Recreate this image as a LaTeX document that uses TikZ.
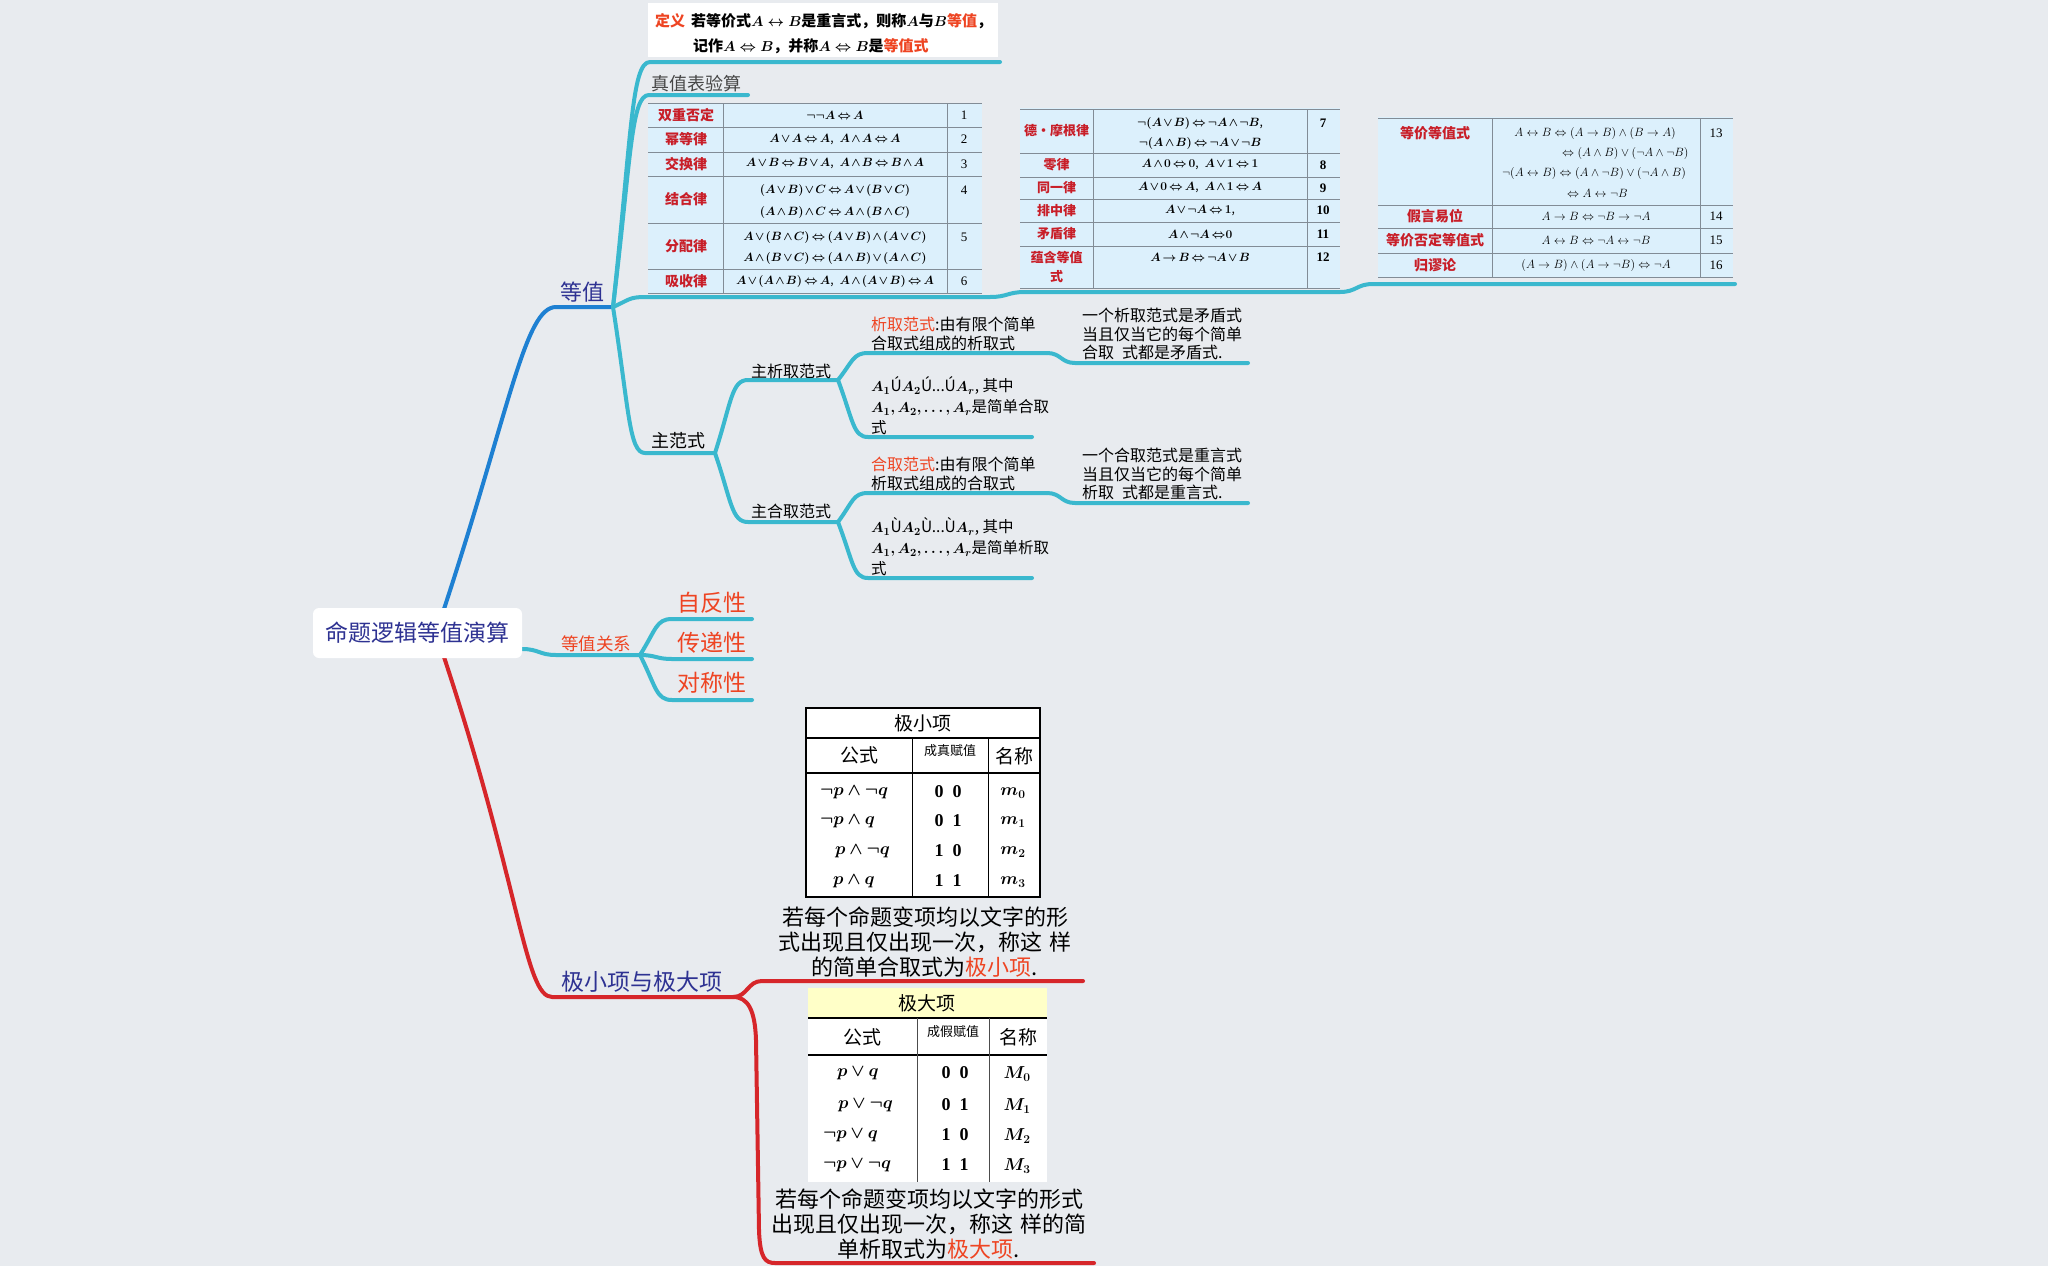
\documentclass[tikz,border=0pt]{standalone}
\usepackage{bm}
\usepackage{fontspec}
\setmainfont{Noto Sans CJK SC}
\newfontfamily\tms{Liberation Serif}
\usetikzlibrary{calc}
\definecolor{bg}{RGB}{232,235,239}
\definecolor{bluebr}{RGB}{30,128,210}
\definecolor{cyanbr}{RGB}{58,184,206}
\definecolor{redbr}{RGB}{214,38,42}
\definecolor{navy}{RGB}{46,50,146}
\definecolor{orred}{RGB}{238,68,34}
\definecolor{lawred}{RGB}{200,30,40}
\definecolor{tblue}{RGB}{220,240,252}
\definecolor{tline}{RGB}{130,140,150}
\definecolor{ylw}{RGB}{255,255,200}
\definecolor{txtgray}{RGB}{70,70,70}
\newcommand\fsz[2]{\fontsize{#1}{#2}\selectfont}
\newcommand\tightmath{\thickmuskip=3mu\medmuskip=2mu}
\newcommand\tbr[4]{\draw[#1] let \p1=(#2), \p2=(#3) in (\p1) .. controls ({\x1+0.5*(\x2-\x1)},{\y1+0.7*(\y2-\y1)}) and ({\x1+0.5*(\x2-\x1)},{\y2}) .. (\p2) -- (#4);}
\newcommand\sbr[4]{\draw[#1] let \p1=(#2), \p2=(#3) in (\p1) .. controls ({\x1+0.5*(\x2-\x1)},{\y1}) and ({\x1+0.5*(\x2-\x1)},{\y2}) .. (\p2) -- (#4);}
\begin{document}
\begin{tikzpicture}[x=1pt,y=-1pt,
  br/.style={line width=4pt, line cap=round, line join=round},
  lbl/.style={anchor=west, inner sep=0pt},
  lawname/.style={inner sep=0pt, text=lawred, font=\bfseries\fsz{14}{16}},
  lawnameb/.style={inner sep=0pt, text=lawred, font=\bfseries\fsz{13}{15}},
  fml/.style={inner sep=0pt, font=\fsz{12}{14}\tightmath},
  fmlc/.style={inner sep=0pt, font=\fsz{12}{14}},
  num/.style={inner sep=0pt, font=\tms\fsz{13}{15}},
  numb/.style={inner sep=0pt, font=\tms\bfseries\fsz{13}{15}},
  tl/.style={draw=tline, line width=1pt},
  mform/.style={inner sep=0pt, font=\fsz{18}{20}},
  mval/.style={inner sep=0pt, font=\tms\bfseries\fsz{18}{20}},
  mhead/.style={inner sep=0pt, font=\fsz{19}{22}},
  msmall/.style={inner sep=0pt, font=\fsz{13}{15}},
  sub/.style={anchor=west, inner sep=0pt, align=left, font=\fsz{16}{18.5}},
  subm/.style={anchor=west, inner sep=0pt, align=left, font=\fsz{15.5}{21}},
  rel/.style={anchor=west, inner sep=0pt, text=orred, font=\fsz{23}{26}}
]
\useasboundingbox (0,0) rectangle (2048,1266);
\fill[bg] (0,0) rectangle (2048,1266);

% ---------- coordinates ----------
\coordinate (rootT) at (444,609);
\coordinate (rootB) at (444,657);
\coordinate (rootR) at (522,649);
\coordinate (dzS) at (556,307);  \coordinate (dzE) at (613,307);
\coordinate (defS) at (650,62);  \coordinate (defE) at (1000,62);
\coordinate (zbS) at (649,95);   \coordinate (zbE) at (748,95);
\coordinate (t1S) at (645,297);  \coordinate (t1E) at (990,297);
\coordinate (t2S) at (1025,292); \coordinate (t2E) at (1340,292);
\coordinate (t3S) at (1373,284); \coordinate (t3E) at (1735,284);
\coordinate (zfS) at (645,453);  \coordinate (zfE) at (715,453);
\coordinate (zxS) at (748,380);  \coordinate (zxE) at (838,380);
\coordinate (zhS) at (748,522);  \coordinate (zhE) at (838,522);
\coordinate (x1S) at (868,353);  \coordinate (x1E) at (1047,353);
\coordinate (x2S) at (1075,363); \coordinate (x2E) at (1248,363);
\coordinate (x3S) at (868,437);  \coordinate (x3E) at (1032,437);
\coordinate (h1S) at (868,493);  \coordinate (h1E) at (1047,493);
\coordinate (h2S) at (1075,503); \coordinate (h2E) at (1248,503);
\coordinate (h3S) at (868,578);  \coordinate (h3E) at (1032,578);
\coordinate (gxS) at (556,655);  \coordinate (gxE) at (640,655);
\coordinate (r1S) at (672,619);  \coordinate (r1E) at (752,619);
\coordinate (r2S) at (672,659);  \coordinate (r2E) at (752,659);
\coordinate (r3S) at (672,700);  \coordinate (r3E) at (752,700);
\coordinate (jxS) at (552,997);  \coordinate (jxE) at (733,997);
\coordinate (m1S) at (762,981);  \coordinate (m1E) at (1083,981);
\coordinate (m2S) at (775,1263); \coordinate (m2E) at (1094,1263);

% ---------- definition box ----------
\node[fill=white, inner sep=0pt, minimum width=350pt, minimum height=54pt, anchor=north west] (defbox) at (648,3) {};
\node[lbl, font=\bfseries\fsz{15}{18}] (def1) at (655,21) {\textcolor{orred}{定义}\hspace{6pt}若等价式$\bm{A\leftrightarrow B}$是重言式，则称$\bm{A}$与$\bm{B}$\textcolor{orred}{等值}，};
\node[lbl, font=\bfseries\fsz{15}{18}] (def2) at (693,46) {记作$\bm{A\Leftrightarrow B}$，并称$\bm{A\Leftrightarrow B}$是\textcolor{orred}{等值式}};

% ---------- table 1 ----------
\fill[tblue] (648,103) rectangle (982,293);
\foreach \yy in {103,127,152,176,223,269,293} \draw[tl] (648,\yy) -- (982,\yy);
\draw[tl] (723,103) -- (723,293);
\draw[tl] (947,103) -- (947,293);
\node[lawname] (a1) at (686,115) {双重否定};
\node[lawname] (a2) at (686,139.5) {幂等律};
\node[lawname] (a3) at (686,164) {交换律};
\node[lawname] (a4) at (686,199.5) {结合律};
\node[lawname] (a5) at (686,246) {分配律};
\node[lawname] (a6) at (686,281) {吸收律};
\node[fml] (b1) at (835,115) {$\bm{\neg\neg A\Leftrightarrow A}$};
\node[fml] (b2) at (835,139.5) {$\bm{A\vee A\Leftrightarrow A}$,\enspace $\bm{A\wedge A\Leftrightarrow A}$};
\node[fml] (b3) at (835,164) {$\bm{A\vee B\Leftrightarrow B\vee A}$,\enspace $\bm{A\wedge B\Leftrightarrow B\wedge A}$};
\node[fml] (b4a) at (835,190) {$\bm{(A\vee B)\vee C\Leftrightarrow A\vee(B\vee C)}$};
\node[fml] (b4b) at (835,212) {$\bm{(A\wedge B)\wedge C\Leftrightarrow A\wedge(B\wedge C)}$};
\node[fml] (b5a) at (835,237) {$\bm{A\vee(B\wedge C)\Leftrightarrow(A\vee B)\wedge(A\vee C)}$};
\node[fml] (b5b) at (835,258) {$\bm{A\wedge(B\vee C)\Leftrightarrow(A\wedge B)\vee(A\wedge C)}$};
\node[fml] (b6) at (835,281) {$\bm{A\vee(A\wedge B)\Leftrightarrow A}$,\enspace $\bm{A\wedge(A\vee B)\Leftrightarrow A}$};
\node[num] (c1) at (964,115) {1};
\node[num] (c2) at (964,139.5) {2};
\node[num] (c3) at (964,164) {3};
\node[num] (c4) at (964,190) {4};
\node[num] (c5) at (964,237) {5};
\node[num] (c6) at (964,281) {6};

% ---------- table 2 ----------
\fill[tblue] (1020,108) rectangle (1340,288);
\foreach \yy in {109,153,177,199,222,246,288} \draw[tl] (1020,\yy) -- (1340,\yy);
\draw[tl] (1093,109) -- (1093,288);
\draw[tl] (1307,109) -- (1307,288);
\node[lawnameb] (d1) at (1056.5,131) {德·摩根律};
\node[lawnameb] (d2) at (1056.5,165) {零律};
\node[lawnameb] (d3) at (1056.5,188) {同一律};
\node[lawnameb] (d4) at (1056.5,210.5) {排中律};
\node[lawnameb] (d5) at (1056.5,234) {矛盾律};
\node[lawnameb] (d6a) at (1056.5,257) {蕴含等值};
\node[lawnameb] (d6b) at (1056.5,277) {式};
\node[fml] (e1a) at (1200,123) {$\bm{\neg(A\vee B)\Leftrightarrow\neg A\wedge\neg B}$,};
\node[fml] (e1b) at (1200,143) {$\bm{\neg(A\wedge B)\Leftrightarrow\neg A\vee\neg B}$};
\node[fml] (e2) at (1200,165) {$\bm{A\wedge 0\Leftrightarrow 0}$,\enspace $\bm{A\vee 1\Leftrightarrow 1}$};
\node[fml] (e3) at (1200,188) {$\bm{A\vee 0\Leftrightarrow A}$,\enspace $\bm{A\wedge 1\Leftrightarrow A}$};
\node[fml] (e4) at (1200,210.5) {$\bm{A\vee\neg A\Leftrightarrow 1}$,};
\node[fml] (e5) at (1200,234) {$\bm{A\wedge\neg A\Leftrightarrow\!0}$};
\node[fml] (e6) at (1200,257) {$\bm{A\rightarrow B\Leftrightarrow\neg A\vee B}$};
\node[numb] (f1) at (1323,123) {7};
\node[numb] (f2) at (1323,165) {8};
\node[numb] (f3) at (1323,188) {9};
\node[numb] (f4) at (1323,210.5) {10};
\node[numb] (f5) at (1323,234) {11};
\node[numb] (f6) at (1323,257) {12};

% ---------- table 3 ----------
\fill[tblue] (1378,117) rectangle (1733,277);
\foreach \yy in {118,205,228,253,277} \draw[tl] (1378,\yy) -- (1733,\yy);
\draw[tl] (1492,118) -- (1492,277);
\draw[tl] (1700,118) -- (1700,277);
\node[lawname] (g1) at (1435,133) {等价等值式};
\node[lawname] (g2) at (1435,216.5) {假言易位};
\node[lawname] (g3) at (1435,240.5) {等价否定等值式};
\node[lawname] (g4) at (1435,265) {归谬论};
\node[fmlc] (h1a) at (1595,133) {$A\leftrightarrow B\Leftrightarrow(A\rightarrow B)\wedge(B\rightarrow A)$};
\node[fmlc, anchor=west] (h1b) at (1562,153) {$\Leftrightarrow(A\wedge B)\vee(\neg A\wedge\neg B)$};
\node[fmlc, anchor=west] (h1c) at (1502,173) {$\neg(A\leftrightarrow B)\Leftrightarrow(A\wedge\neg B)\vee(\neg A\wedge B)$};
\node[fmlc, anchor=west] (h1d) at (1567,193) {$\Leftrightarrow A\leftrightarrow\neg B$};
\node[fmlc] (h2) at (1596,216.5) {$A\rightarrow B\Leftrightarrow\neg B\rightarrow\neg A$};
\node[fmlc] (h3) at (1596,240.5) {$A\leftrightarrow B\Leftrightarrow\neg A\leftrightarrow\neg B$};
\node[fmlc] (h4) at (1596,265) {$(A\rightarrow B)\wedge(A\rightarrow\neg B)\Leftrightarrow\neg A$};
\node[num] (i1) at (1716,133) {13};
\node[num] (i2) at (1716,216.5) {14};
\node[num] (i3) at (1716,240.5) {15};
\node[num] (i4) at (1716,265) {16};

% ---------- minterm table ----------
\fill[white] (806,708) rectangle (1040,897);
\draw[black, line width=1.3pt] (806,708) rectangle (1040,897);
\draw[black, line width=1.3pt] (806,738) -- (1040,738);
\draw[black, line width=1.3pt] (806,773) -- (1040,773);
\draw[black, line width=1pt] (912,738) -- (912,897);
\draw[black, line width=1pt] (988,738) -- (988,897);
\node[mhead] (mth) at (923,723) {极小项};
\node[mhead] (mtca) at (859,755) {公式};
\node[msmall] (mtcb) at (950,751) {成真赋值};
\node[mhead] (mtcc) at (1014,756) {名称};
\node[mform, anchor=west] (mfa) at (820,792) {$\bm{\neg p\wedge\neg q}$};
\node[mform, anchor=west] (mfb) at (820,821) {$\bm{\neg p\wedge q}$};
\node[mform, anchor=west] (mfc) at (835,851) {$\bm{p\wedge\neg q}$};
\node[mform, anchor=west] (mfd) at (833,881) {$\bm{p\wedge q}$};
\node[mval] (mva) at (948,792) {0\hspace{9pt}0};
\node[mval] (mvb) at (948,821) {0\hspace{9pt}1};
\node[mval] (mvc) at (948,851) {1\hspace{9pt}0};
\node[mval] (mvd) at (948,881) {1\hspace{9pt}1};
\node[mform] (mna) at (1013,793) {$\bm{m_0}$};
\node[mform] (mnb) at (1013,822) {$\bm{m_1}$};
\node[mform] (mnc) at (1013,852) {$\bm{m_2}$};
\node[mform] (mnd) at (1013,882) {$\bm{m_3}$};
\node[inner sep=0pt, align=center, font=\fsz{22}{25}] (mtxt) at (925,942) {若每个命题变项均以文字的形\\式出现且仅出现一次，称这\hspace{8pt}样\\的简单合取式为\textcolor{orred}{极小项}.};

% ---------- maxterm table ----------
\fill[ylw] (808,988) rectangle (1047,1018);
\fill[white] (808,1018) rectangle (1047,1182);
\draw[black, line width=1.3pt] (808,1018) -- (1047,1018);
\draw[black, line width=1.3pt] (808,1055) -- (1047,1055);
\draw[black!70, line width=1pt] (917,1018) -- (917,1182);
\draw[black!70, line width=1pt] (989,1018) -- (989,1182);
\node[mhead] (Mth) at (927,1003) {极大项};
\node[mhead] (Mtca) at (862,1037) {公式};
\node[msmall] (Mtcb) at (953,1032) {成假赋值};
\node[mhead] (Mtcc) at (1018,1037) {名称};
\node[mform, anchor=west] (Mfa) at (837,1073) {$\bm{p\vee q}$};
\node[mform, anchor=west] (Mfb) at (838,1105) {$\bm{p\vee\neg q}$};
\node[mform, anchor=west] (Mfc) at (823,1135) {$\bm{\neg p\vee q}$};
\node[mform, anchor=west] (Mfd) at (823,1165) {$\bm{\neg p\vee\neg q}$};
\node[mval] (Mva) at (955,1073) {0\hspace{9pt}0};
\node[mval] (Mvb) at (955,1105) {0\hspace{9pt}1};
\node[mval] (Mvc) at (955,1135) {1\hspace{9pt}0};
\node[mval] (Mvd) at (955,1165) {1\hspace{9pt}1};
\node[mform] (Mna) at (1017,1074) {$\bm{M_0}$};
\node[mform] (Mnb) at (1017,1106) {$\bm{M_1}$};
\node[mform] (Mnc) at (1017,1136) {$\bm{M_2}$};
\node[mform] (Mnd) at (1017,1166) {$\bm{M_3}$};
\node[inner sep=0pt, align=center, font=\fsz{22}{25}] (Mtxt) at (929,1224) {若每个命题变项均以文字的形式\\出现且仅出现一次，称这\hspace{8pt}样的简\\单析取式为\textcolor{orred}{极大项}.};

% ---------- branches ----------
\draw[br, bluebr] (rootT) .. controls (510,408) and (525,307) .. (dzS) -- (dzE);
\draw[br, redbr] (rootB) .. controls (520,887) and (525,997) .. (jxS) -- (jxE);
\tbr{br, cyanbr}{dzE}{defS}{defE}
\tbr{br, cyanbr}{dzE}{zbS}{zbE}
\tbr{br, cyanbr}{dzE}{t1S}{t1E}
\sbr{br, cyanbr}{t1E}{t2S}{t2E}
\sbr{br, cyanbr}{t2E}{t3S}{t3E}
\tbr{br, cyanbr}{dzE}{zfS}{zfE}
\tbr{br, cyanbr}{zfE}{zxS}{zxE}
\tbr{br, cyanbr}{zfE}{zhS}{zhE}
\tbr{br, cyanbr}{zxE}{x1S}{x1E}
\sbr{br, cyanbr}{x1E}{x2S}{x2E}
\tbr{br, cyanbr}{zxE}{x3S}{x3E}
\tbr{br, cyanbr}{zhE}{h1S}{h1E}
\sbr{br, cyanbr}{h1E}{h2S}{h2E}
\tbr{br, cyanbr}{zhE}{h3S}{h3E}
\sbr{br, cyanbr}{rootR}{gxS}{gxE}
\tbr{br, cyanbr}{gxE}{r1S}{r1E}
\sbr{br, cyanbr}{gxE}{r2S}{r2E}
\tbr{br, cyanbr}{gxE}{r3S}{r3E}
\sbr{br, redbr}{jxE}{m1S}{m1E}
\draw[br, redbr] (jxE) .. controls (748,997) and (755,1010) .. (756,1040) -- (759,1230) .. controls (760,1258) and (765,1263) .. (m2S) -- (m2E);

% ---------- root and labels ----------
\node[fill=white, rounded corners=6pt, inner sep=0pt, minimum width=209pt, minimum height=50pt, text=navy, font=\fsz{23}{28}] (root) at (417.5,633) {命题逻辑等值演算};
\node[lbl, text=navy, font=\fsz{22}{26}] (dz) at (560,292) {等值};
\node[lbl, text=txtgray, font=\fsz{18}{21}] (zb) at (651,84) {真值表验算};
\node[lbl, font=\fsz{18}{21}] (zf) at (651,441) {主范式};
\node[lbl, font=\fsz{16}{19}] (zx) at (751,371.5) {主析取范式};
\node[lbl, font=\fsz{16}{19}] (zh) at (751,511.5) {主合取范式};
\node[sub] (xa) at (871,334) {\textcolor{orred}{析取范式}:由有限个简单\\合取式组成的析取式};
\node[sub] (xb) at (1082,334) {一个析取范式是矛盾式\\当且仅当它的每个简单\\合取\hspace{8pt}式都是矛盾式.};
\node[subm] (xc) at (871,406) {$\bm{A_1}$Ú$\bm{A_2}$Ú...Ú$\bm{A_r}$, 其中\\$\bm{A_1,A_2,\ldots,A_r}$是简单合取\\式};
\node[sub] (ha) at (871,474) {\textcolor{orred}{合取范式}:由有限个简单\\析取式组成的合取式};
\node[sub] (hb) at (1082,474) {一个合取范式是重言式\\当且仅当它的每个简单\\析取\hspace{8pt}式都是重言式.};
\node[subm] (hc) at (871,547) {$\bm{A_1}$Ù$\bm{A_2}$Ù...Ù$\bm{A_r}$, 其中\\$\bm{A_1,A_2,\ldots,A_r}$是简单析取\\式};
\node[lbl, text=orred, font=\fsz{17.5}{20}] (gx) at (561,644) {等值关系};
\node[rel] (ra) at (677,603) {自反性};
\node[rel] (rb) at (677,643) {传递性};
\node[rel] (rc) at (677,683) {对称性};
\node[lbl, text=navy, font=\fsz{23}{26}] (jx) at (561,982) {极小项与极大项};
\end{tikzpicture}
\end{document}
